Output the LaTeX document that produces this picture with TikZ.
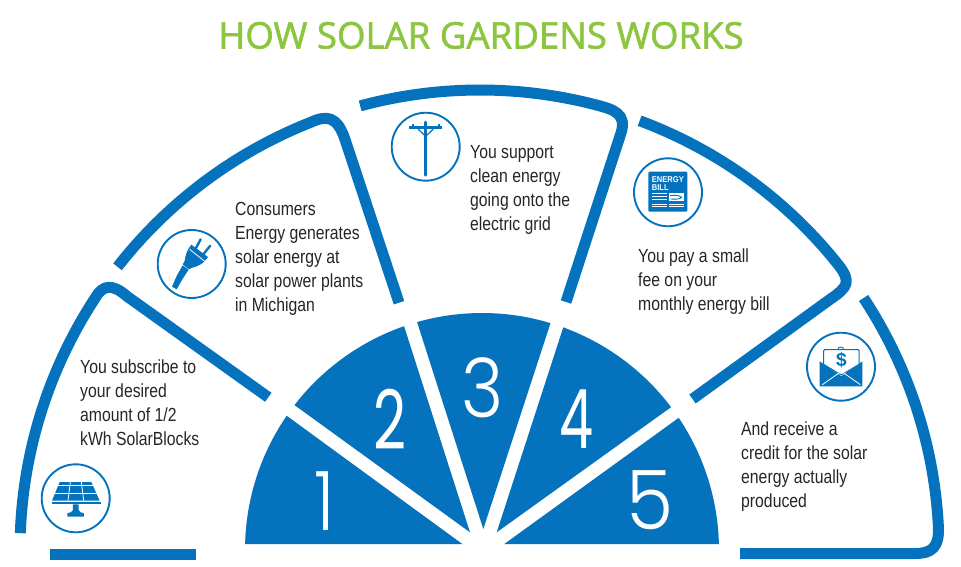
\documentclass[tikz,border=0pt]{standalone}
\usepackage{fontspec}
\setmainfont{Liberation Sans}
\newfontfamily\bodyf[FakeStretch=0.83]{Liberation Sans}
\newfontfamily\titlef[FakeBold=1.6]{Open Sans}
\newfontfamily\numf{Poppins Light}
\newfontfamily\numrf{Poppins}
\newfontfamily\billf[FakeStretch=0.9]{Liberation Sans}
\definecolor{sgblue}{HTML}{0472BC}
\definecolor{sggreen}{HTML}{8CC63F}
\definecolor{sgtext}{HTML}{262626}
\tikzset{
  band/.style={draw=sgblue,line width=11pt,line cap=butt,line join=round},
  sector/.style={fill=sgblue,draw=none},
  ring/.style={draw=sgblue,line width=1.9pt,fill=white},
  caption/.style={font=\bodyf\fontsize{19}{24}\selectfont,text=sgtext,align=left,inner sep=0pt,anchor=north west},
  digit/.style={font=\numf\fontsize{82}{82}\selectfont,text=white,inner sep=0pt,anchor=base},
  digitr/.style={font=\numrf\fontsize{82}{82}\selectfont,text=white,inner sep=0pt,anchor=base},
  iconfill/.style={fill=sgblue,draw=none},
  iconline/.style={draw=sgblue},
  cut/.style={draw=white,line width=0.8pt},
}
\def\fx{482}\def\fy{550}\def\fr{237}
\def\bx{480}\def\by{550}
\begin{document}
\begin{tikzpicture}[x=1pt,y=-1pt]
\useasboundingbox (0,0) rectangle (961,567);
\fill[white] (0,0) rectangle (961,567);
\node[font=\titlef\fontsize{36.6}{36.6}\selectfont,text=sggreen,inner sep=0pt,anchor=base] (title) at (481,48.5) {HOW SOLAR GARDENS WORKS};

% fan
\path[sector] plot[domain=178.55:145.5,samples=30] ({\fx+\fr*cos(\x)},{\fy-\fr*sin(\x)}) -- (462.3,544) -- cycle;
\path[sector] plot[domain=142.3:109.2,samples=30] ({\fx+\fr*cos(\x)},{\fy-\fr*sin(\x)}) -- (470,532.3) -- cycle;
\path[sector] plot[domain=105.9:73.2,samples=30] ({\fx+\fr*cos(\x)},{\fy-\fr*sin(\x)}) -- (483.3,529) -- cycle;
\path[sector] plot[domain=69.95:37.07,samples=30] ({\fx+\fr*cos(\x)},{\fy-\fr*sin(\x)}) -- (496.7,532.3) -- cycle;
\path[sector] plot[domain=33.9:1.45,samples=30] ({\fx+\fr*cos(\x)},{\fy-\fr*sin(\x)}) -- (504.3,544) -- cycle;
\node[digit] (d1) at (325,530) {\scalebox{0.85}[1]{1}};
\node[digitr] (d2) at (390,449) {\scalebox{0.7}[1]{2}};
\node[digit] (d3) at (483,417) {\scalebox{0.88}[1]{3}};
\node[digitr] (d4) at (577,448) {\scalebox{0.66}[1]{4}};
\node[digit] (d5) at (650,529) {\scalebox{0.93}[1]{5}};

% bands
\draw[band] plot[domain=177.9:146.8,samples=50] ({\bx+460*cos(\x)},{\by-460*sin(\x)})
  .. controls (103,284) and (113,284) .. (127,296.3) -- (268.3,397.3);
\draw[band] (50,554) -- (195.5,554);
\draw[band] plot[domain=142:111.6,samples=50] ({\bx+460*cos(\x)},{\by-460*sin(\x)})
  .. controls (326,115.5) and (337,115) .. (345.2,140) -- (399,302.7);
\draw[band] plot[domain=105.1:75.3,samples=50] ({\bx+460*cos(\x)},{\by-460*sin(\x)})
  .. controls (614,109.5) and (627,114) .. (621,133) -- (566,302);
\draw[band] plot[domain=69.6:38.3,samples=50] ({\bx+458*cos(\x)},{\by-458*sin(\x)})
  .. controls (851,282) and (848,287) .. (830,299.4) -- (692.5,399);
\draw[band] plot[domain=33.3:3.1,samples=50] ({\bx+459*cos(\x)},{\by-459*sin(\x)})
  .. controls (940,549) and (930,553.5) .. (915,553.5) -- (740,553.5);

% captions
\node[caption] (c1) at (80,359.5) {You subscribe to\\your desired\\amount of 1/2\\kWh SolarBlocks};
\node[caption] (c2) at (235,202.5) {Consumers\\Energy generates\\solar energy at\\solar power plants\\in Michigan};
\node[caption] (c3) at (470,145.5) {You support\\clean energy\\going onto the\\electric grid};
\node[caption] (c4) at (638,248.5) {You pay a small\\fee on your\\monthly energy bill};
\node[caption] (c5) at (741,421.5) {And receive a\\credit for the solar\\energy actually\\produced};

% icon rings
\node[ring,circle,minimum size=68pt,inner sep=0pt] (i1) at (75.7,498.3) {};
\node[ring,circle,minimum size=68pt,inner sep=0pt] (i2) at (191.7,264) {};
\node[ring,circle,minimum size=68pt,inner sep=0pt] (i3) at (425.7,146.7) {};
\node[ring,circle,minimum size=68pt,inner sep=0pt] (i4) at (668,192.3) {};
\node[ring,circle,minimum size=68pt,inner sep=0pt] (i5) at (841,366.7) {};

% solar panel
\begin{scope}[shift={(38,460)},x=0.3333pt,y=-0.3333pt]
\path[iconfill] (65,66) -- (160,66) -- (185,122) -- (42,122) -- cycle;
\path[iconfill] (42,126) rectangle (188,133);
\draw[cut] (57,77) -- (170,77);
\draw[cut] (50,99) -- (178,99);
\draw[cut] (97,66) -- (90,122);
\draw[cut] (130,66) -- (137,122);
\path[iconfill] (105,133) -- (122,133) -- (122,150) .. controls (123,156) and (130,158) .. (138,160) -- (138,170) -- (88,170) -- (88,160) .. controls (96,158) and (104,156) .. (105,150) -- cycle;
\end{scope}

% plug
\begin{scope}[shift={(154,226)},x=0.3333pt,y=-0.3333pt]
\draw[iconline,line width=2.4pt,line cap=round] (125,68) -- (140,40);
\draw[iconline,line width=2.4pt,line cap=round] (148,85) -- (168,60);
\path[iconfill] (112,56) -- (162,93) -- (150,108) .. controls (135,120) and (125,122) .. (112,126) -- (105,130) -- (86,115) -- (92,105) .. controls (93,90) and (100,70) .. (112,56) -- cycle;
\draw[cut] (107,70) -- (152,106);
\path[iconfill] (86,118) -- (104,131) -- (85,160) -- (68,190) -- (54,182) -- (68,150) -- cycle;
\end{scope}

% pole
\begin{scope}[shift={(388,109)},x=0.3333pt,y=-0.3333pt]
\draw[iconline,line width=3.4pt,line cap=round] (113,40) -- (113,198);
\draw[iconline,line width=3.2pt] (64,56) -- (163,56);
\draw[iconline,line width=1.2pt] (90,60) -- (113,82) -- (136,60);
\draw[iconline,line width=1.8pt] (74,46) -- (74,54);
\draw[iconline,line width=1.8pt] (152,46) -- (152,54);
\end{scope}

% bill
\begin{scope}[shift={(630,154)},x=0.3333pt,y=-0.3333pt]
\path[iconfill,rounded corners=1pt] (55,53) rectangle (172,173);
\node[font=\billf\fontsize{8.4}{7.4}\selectfont\bfseries,text=white,align=left,inner sep=0pt,anchor=north west] (billtxt) at (65,68) {ENERGY\\BILL};
\foreach \yy in {117,126,135,150,158} \draw[cut] (65,\yy) -- (111,\yy);
\foreach \yy in {150,158} \draw[cut] (118,\yy) -- (161,\yy);
\fill[white] (117,117) rectangle (161,142);
\draw[iconline,line width=0.9pt] (120,125) .. controls (135,123) and (148,124) .. (155,130) .. controls (150,136) and (135,136) .. (122,135);
\end{scope}

% envelope
\begin{scope}[shift={(803,329)},x=0.3333pt,y=-0.3333pt]
\draw[iconline,line width=1pt,rounded corners=1pt] (62,106) -- (62,62) -- (168,62) -- (168,106);
\draw[iconline,line width=0.9pt] (105,61) .. controls (105,52) and (122,52) .. (122,61);
\path[iconfill] (50,97) -- (115,142) -- (178,97) -- (178,172) -- (50,172) -- cycle;
\draw[draw=sgblue,line width=1pt,fill=white] (62,106) -- (115,138) -- (168,106);
\draw[cut] (58,167) -- (115,127) -- (172,167);
\node[font=\fontsize{19}{19}\selectfont\bfseries,text=sgblue,inner sep=0pt] (dollar) at (115,94) {\$};
\end{scope}
\end{tikzpicture}
\end{document}
